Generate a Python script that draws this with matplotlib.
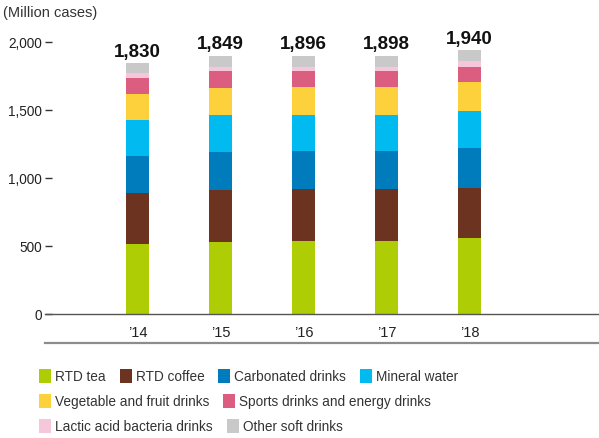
import numpy as np
import matplotlib
matplotlib.use("Agg")
import matplotlib.pyplot as plt
from matplotlib.patches import Rectangle
from matplotlib.lines import Line2D

W, H = 599, 439

years = ["\u201914", "\u201915", "\u201916", "\u201917", "\u201918"]
totals = [1830, 1849, 1896, 1898, 1940]

categories = [
    "RTD tea", "RTD coffee", "Carbonated drinks", "Mineral water",
    "Vegetable and fruit drinks", "Sports drinks and energy drinks",
    "Lactic acid bacteria drinks", "Other soft drinks",
]
rtd_tea = [509, 523, 531, 531, 553]
rtd_coffee = [380, 388, 388, 388, 373]
carbonated = [271, 279, 278, 278, 293]
mineral_water = [264, 270, 263, 263, 271]
vegetable_fruit = [192, 198, 205, 205, 212]
sports_energy = [115, 124, 117, 117, 110]
lactic_acid = [37, 30, 30, 30, 44]
other_soft = [73, 83, 83, 84, 80]

series = [rtd_tea, rtd_coffee, carbonated, mineral_water,
          vegetable_fruit, sports_energy, lactic_acid, other_soft]
colors = ["#AECD05", "#6B3320", "#007BBB", "#00BAF0",
          "#FDD13C", "#DB5E80", "#F6C6DA", "#C8C9C8"]

# legend rows as in the reference (flowing layout)
legend_rows = [[0, 1, 2, 3], [4, 5], [6, 7]]

FONT = ["Liberation Sans", "DejaVu Sans"]

fig = plt.figure(figsize=(W / 100, H / 100), dpi=100)
ax = fig.add_axes([45 / W, (H - 314.5) / H, 554 / W, 271.8 / H])

x = np.arange(len(years))
bottom = np.zeros(len(years))
for vals, col in zip(series, colors):
    ax.bar(x, vals, width=0.277, bottom=bottom, color=col, linewidth=0)
    bottom += np.array(vals)

for xi, top, tot in zip(x, bottom, totals):
    ax.annotate(f"{tot:,}", (xi, top), xytext=(0, 5.5), textcoords="offset points",
                ha="center", va="baseline", fontsize=13.5, fontweight="bold",
                family=FONT, color="#111111")

ax.set_xlim(-1.114, 5.56)
ax.set_ylim(0, 2000)
ax.set_yticks([0, 500, 1000, 1500, 2000])
ax.set_yticklabels(["0", "500", "1,000", "1,500", "2,000"], family=FONT,
                   fontsize=9.8, color="#222222")
ax.tick_params(axis="y", direction="in", length=5, width=1, color="#333333", pad=2)
ax.set_xticks(x)
ax.set_xticklabels(years, family=FONT, fontsize=10.5, color="#222222")
ax.tick_params(axis="x", length=0, pad=8)

for s in ["left", "right", "top"]:
    ax.spines[s].set_visible(False)
ax.spines["bottom"].set_color("#555555")
ax.spines["bottom"].set_linewidth(1.0)

# grey rule under the year labels
fig.add_artist(Line2D([45 / W, 1.0], [(H - 344.3) / H] * 2, color="#8C8C8C",
                      linewidth=1.6, transform=fig.transFigure))

fig.text(3 / W, (H - 12.5) / H, "(Million cases)", fontsize=10.5, family=FONT,
         color="#333333", va="center", ha="left")

# legend, laid out item after item
fig.canvas.draw()
renderer = fig.canvas.get_renderer()
row_y = [376.7, 401.7, 426.7]
for yc, row in zip(row_y, legend_rows):
    xpos = 39
    for idx in row:
        fig.add_artist(Rectangle((xpos / W, (H - yc - 7) / H), 12 / W, 14 / H,
                                 transform=fig.transFigure, color=colors[idx],
                                 linewidth=0))
        t = fig.text((xpos + 16) / W, (H - yc) / H, categories[idx], fontsize=9.8,
                     family=FONT, color="#333333", va="center", ha="left")
        bb = t.get_window_extent(renderer)
        xpos = bb.x1 + 14

fig.savefig("out.png", dpi=100)
